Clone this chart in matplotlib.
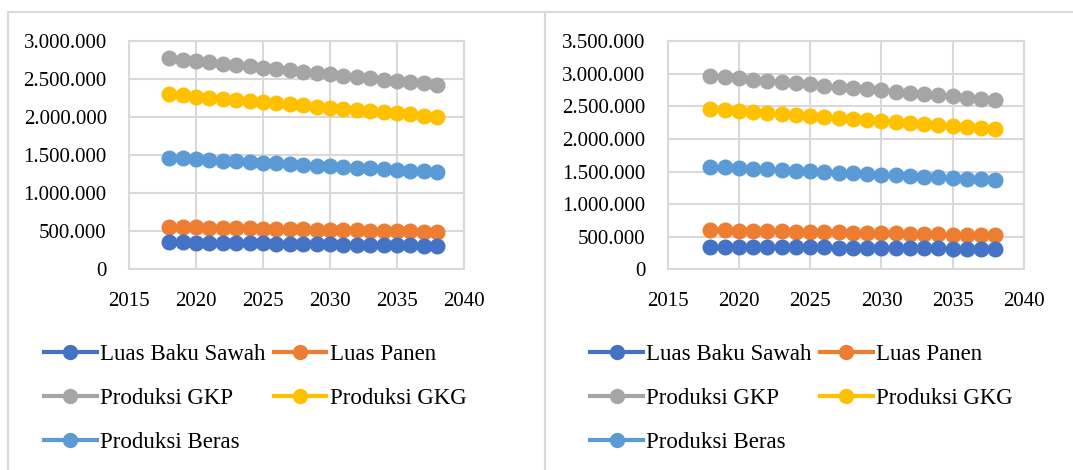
import matplotlib
matplotlib.use('Agg')
import matplotlib.pyplot as plt
from matplotlib.lines import Line2D
from matplotlib.patches import Rectangle
from matplotlib.ticker import FuncFormatter, MultipleLocator

plt.rcParams['font.family'] = ['Liberation Serif', 'DejaVu Serif']

years = list(range(2018, 2039))
series_names = ['Luas Baku Sawah', 'Luas Panen', 'Produksi GKP', 'Produksi GKG', 'Produksi Beras']
colors = ['#4472C4', '#ED7D31', '#A5A5A5', '#FFC000', '#5B9BD5']

# left panel (ribu)
left_luas_baku = [355, 353, 351, 348, 346, 344, 342, 340, 337, 335, 333, 331, 329, 326, 324, 322, 320, 318, 315, 313, 311]
left_luas_panen = [560, 557, 553, 550, 546, 543, 539, 536, 532, 529, 526, 522, 519, 515, 512, 508, 505, 501, 498, 494, 491]
left_gkp = [2776, 2758, 2741, 2723, 2706, 2689, 2671, 2654, 2636, 2619, 2602, 2585, 2567, 2550, 2533, 2515, 2498, 2481, 2464, 2446, 2429]
left_gkg = [2303, 2288, 2273, 2259, 2244, 2229, 2214, 2200, 2185, 2170, 2156, 2141, 2126, 2111, 2097, 2082, 2067, 2053, 2038, 2023, 2008]
left_beras = [1468, 1459, 1449, 1440, 1430, 1421, 1412, 1402, 1393, 1383, 1374, 1365, 1355, 1346, 1337, 1327, 1318, 1308, 1299, 1290, 1280]

# right panel (ribu)
right_luas_baku = [350, 348, 346, 345, 343, 341, 339, 337, 336, 334, 332, 330, 328, 327, 325, 323, 321, 319, 318, 316, 314]
right_luas_panen = [603, 599, 595, 591, 587, 583, 579, 575, 571, 567, 563, 558, 554, 550, 546, 542, 538, 534, 530, 526, 522]
right_gkp = [2967, 2949, 2930, 2912, 2893, 2875, 2857, 2838, 2820, 2801, 2783, 2765, 2746, 2728, 2709, 2691, 2673, 2654, 2636, 2617, 2599]
right_gkg = [2461, 2446, 2431, 2416, 2401, 2386, 2370, 2355, 2340, 2325, 2310, 2295, 2280, 2265, 2250, 2235, 2219, 2204, 2189, 2174, 2159]
right_beras = [1575, 1565, 1555, 1544, 1534, 1524, 1514, 1504, 1493, 1483, 1473, 1463, 1453, 1442, 1432, 1422, 1412, 1402, 1391, 1381, 1371]

left_data = [left_luas_baku, left_luas_panen, left_gkp, left_gkg, left_beras]
right_data = [right_luas_baku, right_luas_panen, right_gkp, right_gkg, right_beras]

GRID = '#d9d9d9'


def dotted(v, _):
    return f'{int(round(v)):,}'.replace(',', '.')


def panel(fig, rect, data, ymax, frame, legend_x):
    fig.patches.append(Rectangle((frame, -0.1), 0.5, 1.075, transform=fig.transFigure,
                                 fill=False, ec=GRID, lw=1.5, zorder=0))
    ax = fig.add_axes(rect)
    zorders = [5, 4, 3, 3, 3]
    for vals, c, z in zip(data, colors, zorders):
        ax.plot(years, [v * 1000 for v in vals], ls='none', marker='o', ms=10.5,
                mfc=c, mec=c, zorder=z, clip_on=False)
    ax.set_xlim(2015, 2040)
    ax.set_ylim(0, ymax)
    ax.xaxis.set_major_locator(MultipleLocator(5))
    ax.yaxis.set_major_locator(MultipleLocator(500000))
    ax.yaxis.set_major_formatter(FuncFormatter(dotted))
    ax.grid(True, color=GRID, lw=1.5)
    ax.set_axisbelow(True)
    for s in ax.spines.values():
        s.set_color(GRID)
        s.set_linewidth(1.5)
    ax.tick_params(length=0, labelsize=15, colors='black')
    ax.tick_params(axis='y', pad=16)
    ax.tick_params(axis='x', pad=16)

    handles = [Line2D([], [], color=c, lw=3, marker='o', ms=10, mfc=c, mec=c) for c in colors]
    order = [0, 2, 4, 1, 3]
    fig.legend([handles[i] for i in order], [series_names[i] for i in order],
               ncol=2, loc='upper left', bbox_to_anchor=(legend_x, 0.268),
               frameon=False, fontsize=16.5, handlelength=2.3, handletextpad=0.15,
               columnspacing=0.35, labelspacing=1.0, borderpad=0, borderaxespad=0)
    return ax


fig = plt.figure(figsize=(10.73, 4.70), dpi=100)
panel(fig, [0.1202, 0.427, 0.3122, 0.485], left_data, 3000000, 0.0078, 0.041)
panel(fig, [0.6223, 0.427, 0.3320, 0.485], right_data, 3500000, 0.508, 0.550)
fig.savefig('out.png', dpi=100)
